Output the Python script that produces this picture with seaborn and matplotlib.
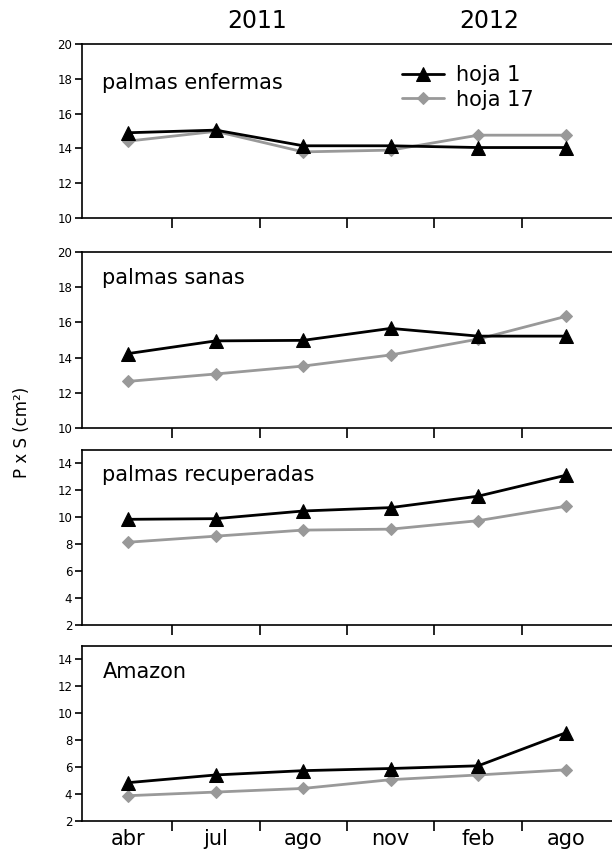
import matplotlib
matplotlib.use("Agg")
import matplotlib.pyplot as plt
import seaborn as sns
import pandas as pd
import numpy as np

months = ["abr", "jul", "ago", "nov", "feb", "ago"]
years = ["2011", "2012"]
panels = ["palmas enfermas", "palmas sanas", "palmas recuperadas", "Amazon"]
series_names = ["hoja 1", "hoja 17"]

enfermas_h1 = [14.9, 15.05, 14.15, 14.15, 14.05, 14.05]
enfermas_h17 = [14.42, 14.98, 13.8, 13.9, 14.76, 14.76]
sanas_h1 = [14.23, 14.95, 14.98, 15.66, 15.22, 15.22]
sanas_h17 = [12.65, 13.07, 13.52, 14.15, 15.05, 16.34]
recup_h1 = [9.85, 9.9, 10.47, 10.72, 11.57, 13.12]
recup_h17 = [8.15, 8.6, 9.05, 9.12, 9.75, 10.82]
amazon_h1 = [4.85, 5.42, 5.74, 5.9, 6.1, 8.55]
amazon_h17 = [3.88, 4.15, 4.42, 5.07, 5.42, 5.8]

panel_data = [(enfermas_h1, enfermas_h17), (sanas_h1, sanas_h17),
              (recup_h1, recup_h17), (amazon_h1, amazon_h17)]
ylims = [(10, 20), (10, 20), (2, 15), (2, 15)]
yticks = [np.arange(10, 21, 2), np.arange(10, 21, 2), np.arange(2, 15, 2), np.arange(2, 15, 2)]

sns.set_theme(style="white")
plt.rcParams['font.family'] = ['DejaVu Sans']
plt.rcParams['text.color'] = 'black'
plt.rcParams['axes.labelcolor'] = 'black'
plt.rcParams['xtick.color'] = 'black'
plt.rcParams['ytick.color'] = 'black'

fig = plt.figure(figsize=(6.12, 8.55), dpi=100)
W = 612.0
H = 855.0
left_px = 82
boxes = [(44, 218), (252, 428), (450, 625), (646, 821)]
label_y = [0.776, 0.85, 0.857, 0.85]

black = "#000000"
gray = "#999999"
xs = np.arange(len(months))

for i, (top, bot) in enumerate(boxes):
    ax = fig.add_axes([left_px / W, 1 - bot / H, 1 - left_px / W + 0.01, (bot - top) / H])
    h1, h17 = panel_data[i]
    df = pd.DataFrame({"pos": np.concatenate([xs, xs]),
                       "val": h1 + h17,
                       "serie": [series_names[0]] * 6 + [series_names[1]] * 6})
    sns.lineplot(data=df[df.serie == "hoja 17"], x="pos", y="val", ax=ax,
                 color=gray, lw=2.0, marker="D", markersize=6,
                 markeredgecolor=gray, label="hoja 17", legend=False)
    sns.lineplot(data=df[df.serie == "hoja 1"], x="pos", y="val", ax=ax,
                 color=black, lw=2.0, marker="^", markersize=10,
                 markeredgecolor=black, label="hoja 1", legend=False)
    ax.set_xlim(-0.53, 5.6)
    ax.set_ylim(*ylims[i])
    ax.set_yticks(yticks[i])
    ax.set_yticklabels([str(v) for v in yticks[i]], fontsize=8.5)
    ax.set_xticks(np.arange(0.5, 5.0, 1.0))
    ax.set_xticks(xs, minor=True)
    ax.tick_params(axis='x', which='major', direction='out', length=7, width=1.2,
                   labelbottom=False, bottom=True, color='black')
    ax.tick_params(axis='x', which='minor', length=0, bottom=True)
    if i == 3:
        ax.set_xticklabels(months, minor=True, fontsize=15)
        ax.tick_params(axis='x', which='minor', pad=6)
    else:
        ax.set_xticklabels([], minor=True)
    ax.tick_params(axis='y', direction='out', length=5, width=1.2, left=True,
                   color='black', pad=2)
    ax.set_xlabel("")
    ax.set_ylabel("")
    for s in ["top", "left", "bottom"]:
        ax.spines[s].set_visible(True)
        ax.spines[s].set_color("black")
        ax.spines[s].set_linewidth(1.2)
    ax.spines["right"].set_visible(False)
    ax.text(0.038, label_y[i], panels[i], transform=ax.transAxes,
            fontsize=15, va="center", ha="left", color="black")
    if i == 0:
        handles, labels = ax.get_legend_handles_labels()
        order = [labels.index("hoja 1"), labels.index("hoja 17")]
        ax.legend([handles[k] for k in order], [labels[k] for k in order],
                  loc="upper left", bbox_to_anchor=(0.562, 0.985), frameon=False,
                  fontsize=15, handlelength=2.0, handletextpad=0.6,
                  labelspacing=0.2, labelcolor="black")
        ax.text(1.47, 1.13, years[0], transform=ax.get_xaxis_transform(),
                fontsize=17, ha="center", va="center")
        ax.text(4.13, 1.13, years[1], transform=ax.get_xaxis_transform(),
                fontsize=17, ha="center", va="center")

fig.text(22 / W, 1 - 432 / H, "P x S (cm²)", rotation=90, fontsize=12,
         ha="center", va="center")

fig.savefig("out.png", dpi=100)
